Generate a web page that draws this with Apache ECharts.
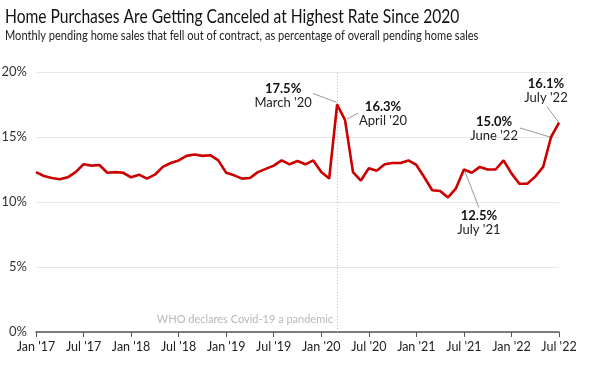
<!DOCTYPE html>
<html><head><meta charset="utf-8">
<script src="https://cdn.jsdelivr.net/npm/echarts@6/dist/echarts.min.js"></script>
<style>html,body{margin:0;padding:0;background:#fff}#c{width:599px;height:366px}</style>
</head><body><div id="c"></div>
<script>
const monthNames = ['Jan','Feb','Mar','Apr','May','Jun','Jul','Aug','Sep','Oct','Nov','Dec'];
const startYear = 2017;
const categories = [];
for (let i = 0; i < 67; i++) {
  const y = startYear + Math.floor(i / 12);
  categories.push(monthNames[i % 12] + " '" + String(y).slice(2));
}
const cancelRate = [
  12.3, 12.0, 11.85, 11.75, 11.9, 12.3, 12.9, 12.8, 12.85, 12.25, 12.3, 12.25,
  11.9, 12.1, 11.8, 12.1, 12.7, 13.0, 13.2, 13.55, 13.65, 13.55, 13.6, 13.2,
  12.25, 12.05, 11.8, 11.85, 12.3, 12.55, 12.8, 13.2, 12.9, 13.15, 12.9, 13.2,
  12.3, 11.8, 17.5, 16.3, 12.3, 11.65, 12.6, 12.4, 12.9, 13.0, 13.0, 13.2,
  12.85, 11.9, 10.9, 10.85, 10.35, 11.05, 12.5, 12.25, 12.7, 12.5, 12.5, 13.2,
  12.2, 11.4, 11.4, 11.95, 12.7, 15.0, 16.1
];
const yTicks = [0, 5, 10, 15, 20];
const covidIndex = 38;
const covidText = 'WHO declares Covid-19 a pandemic';
const titleText = 'Home Purchases Are Getting Canceled at Highest Rate Since 2020';
const subtitleText = 'Monthly pending home sales that fell out of contract, as percentage of overall pending home sales';
const annotations = [
  {idx: 38, value: '17.5%', label: "March '20", tx: -54, ty: -16, l1: [0, -2], l2: [-24, -11]},
  {idx: 39, value: '16.3%', label: "April '20", tx: 38, ty: -13, l1: [2, -1], l2: [13, -7]},
  {idx: 54, value: '12.5%', label: "July '21", tx: 15, ty: 46, l1: [1, 2], l2: [15, 38]},
  {idx: 65, value: '15.0%', label: "June '22", tx: -57, ty: -15, l1: [-1, 0], l2: [-31, -9]},
  {idx: 66, value: '16.1%', label: "July '22", tx: -13, ty: -39, l1: [0, 0], l2: [-12, -16]}
];

const FONT = 'Lato';
const chart = echarts.init(document.getElementById('c'), null, {renderer: 'canvas'});
const option = {
  animation: false,
  backgroundColor: '#fff',
  textStyle: {fontFamily: FONT},
  grid: {left: 36, right: 40, top: 72, bottom: 34, containLabel: false, outerBoundsMode: 'none'},
  xAxis: {
    type: 'category', data: categories, boundaryGap: false,
    axisLine: {lineStyle: {color: '#555', width: 1.5}},
    axisTick: {interval: 5, length: 5, lineStyle: {color: '#555'}},
    axisLabel: {interval: 5, color: '#222', fontSize: 12.5, margin: 8, fontFamily: FONT},
    splitLine: {show: false}
  },
  yAxis: {
    type: 'value', min: yTicks[0], max: yTicks[yTicks.length - 1], interval: 5,
    axisLine: {show: false}, axisTick: {show: false},
    axisLabel: {formatter: '{value}%', color: '#333', fontSize: 13, margin: 9, fontFamily: FONT},
    splitLine: {lineStyle: {color: '#e6e6e6', width: 1}}
  },
  series: [{
    type: 'line', data: cancelRate, symbol: 'none',
    lineStyle: {color: '#cc0000', width: 2.6}, z: 5,
    markLine: {
      silent: true, symbol: 'none', label: {show: false},
      lineStyle: {color: '#bbb', type: [1, 2], width: 1},
      data: [{xAxis: covidIndex}]
    }
  }]
};
chart.setOption(option);

const graphics = [];
graphics.push({type: 'text', x: 5, y: 7, scaleX: 0.78, style: {text: titleText, fill: '#111', font: '20px ' + FONT, textAlign: 'left', textVerticalAlign: 'top'}});
graphics.push({type: 'text', x: 5, y: 29, scaleX: 0.82, style: {text: subtitleText, fill: '#222', font: '13.5px ' + FONT, textAlign: 'left', textVerticalAlign: 'top'}});
const covidTop = chart.convertToPixel({xAxisIndex: 0, yAxisIndex: 0}, [covidIndex, 0]);
graphics.push({type: 'text', x: covidTop[0] - 4, y: covidTop[1] - 13, style: {text: covidText, fill: '#b8b8b8', font: '11px ' + FONT, textAlign: 'right', textVerticalAlign: 'middle'}});
annotations.forEach(a => {
  const p = chart.convertToPixel({xAxisIndex: 0, yAxisIndex: 0}, [a.idx, cancelRate[a.idx]]);
  graphics.push({type: 'line', shape: {x1: p[0] + a.l1[0], y1: p[1] + a.l1[1], x2: p[0] + a.l2[0], y2: p[1] + a.l2[1]}, style: {stroke: '#999', lineWidth: 1}, z: 4});
  graphics.push({type: 'text', x: p[0] + a.tx, y: p[1] + a.ty, style: {text: a.value, fill: '#111', font: 'bold 13px ' + FONT, textAlign: 'center', textVerticalAlign: 'middle'}, z: 10});
  graphics.push({type: 'text', x: p[0] + a.tx, y: p[1] + a.ty + 14, style: {text: a.label, fill: '#222', font: '13px ' + FONT, textAlign: 'center', textVerticalAlign: 'middle'}, z: 10});
});
chart.setOption({graphic: graphics});
</script></body></html>
